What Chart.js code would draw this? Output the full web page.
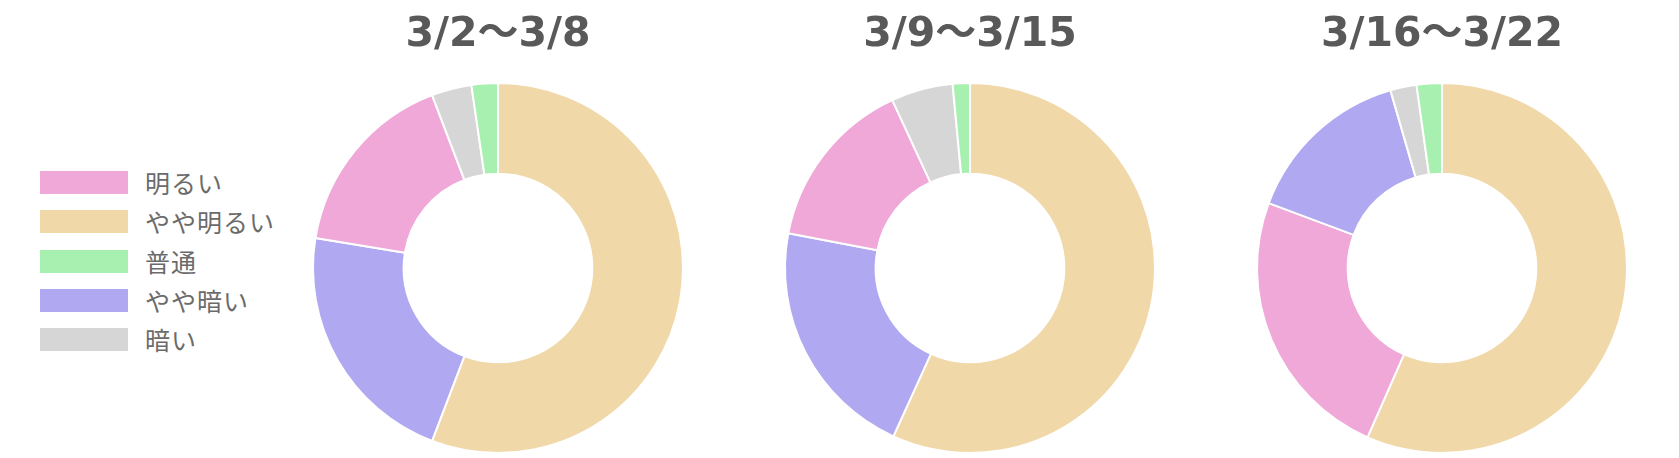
<!DOCTYPE html>
<html lang="ja">
<head>
<meta charset="utf-8">
<title>明るさの割合</title>
<script src="https://cdn.jsdelivr.net/npm/chart.js@4.4.1/dist/chart.umd.min.js"></script>
<style>
  html, body { margin: 0; padding: 0; background: #fff; }
  #wrap { position: relative; width: 1679px; height: 458px; overflow: hidden; }
  #legend { position: absolute; left: 0; top: 0; width: 262px; height: 458px; }
  .item { position: absolute; left: 40px; height: 23px; }
  .box { position: absolute; left: 0; top: 0; width: 88px; height: 23px; }
  .label {
    position: absolute; left: 105px; top: -6px; white-space: nowrap;
    font-family: "Noto Sans CJK JP", sans-serif; font-size: 25px; letter-spacing: 1px;
    line-height: 34px; color: #6b6b6b;
  }
  .chart { position: absolute; top: 0; width: 472px; height: 458px; }
</style>
</head>
<body>
<div id="wrap">
  <div id="legend"></div>
  <div class="chart" style="left:262px"><canvas id="c0"></canvas></div>
  <div class="chart" style="left:734px"><canvas id="c1"></canvas></div>
  <div class="chart" style="left:1206px"><canvas id="c2"></canvas></div>
</div>
<script>
// categories (legend order) and their colours
const categories = ["明るい", "やや明るい", "普通", "やや暗い", "暗い"];
const colors = ["#f0a8d8", "#f0d8a8", "#a8f0b0", "#b0a8f0", "#d6d6d6"];

// week titles
const weeks = ["3/2～3/8", "3/9～3/15", "3/16～3/22"];

// share of answers (%) per week, in category order
const week1 = [16.6, 55.8, 2.3, 21.8, 3.5];
const week2 = [15.1, 56.8, 1.5, 21.2, 5.4];
const week3 = [24.1, 56.6, 2.2, 14.8, 2.3];
const weekData = [week1, week2, week3];

// legend built from the same arrays
const legend = document.getElementById("legend");
categories.forEach((name, i) => {
  const item = document.createElement("div");
  item.className = "item";
  item.style.top = (171 + i * 39.3) + "px";
  item.innerHTML = '<div class="box" style="background:' + colors[i] + '"></div>' +
    '<div class="label">' + name + '</div>';
  legend.appendChild(item);
});

weekData.forEach((values, w) => {
  // slices are drawn largest first, clockwise from the top
  const order = values.map((v, i) => i).sort((a, b) => values[b] - values[a]);

  new Chart(document.getElementById("c" + w), {
    type: "doughnut",
    data: {
      labels: order.map((i) => categories[i]),
      datasets: [
        {
          data: order.map((i) => values[i]),
          backgroundColor: order.map((i) => colors[i]),
          borderColor: "#ffffff",
          borderWidth: 2,
        },
      ],
    },
    options: {
      responsive: true,
      maintainAspectRatio: false,
      animation: false,
      cutout: "51%",
      layout: { padding: { top: 0, bottom: 4, left: 0, right: 0 } },
      plugins: {
        legend: { display: false },
        tooltip: { enabled: false },
        title: {
          display: true,
          text: weeks[w],
          color: "#595959",
          font: { family: "'DejaVu Sans', 'Noto Sans CJK JP', sans-serif", size: 41, weight: "bold", lineHeight: 1.2 },
          padding: { top: 11, bottom: 21.8 },
        },
      },
    },
  });
});
</script>
</body>
</html>
